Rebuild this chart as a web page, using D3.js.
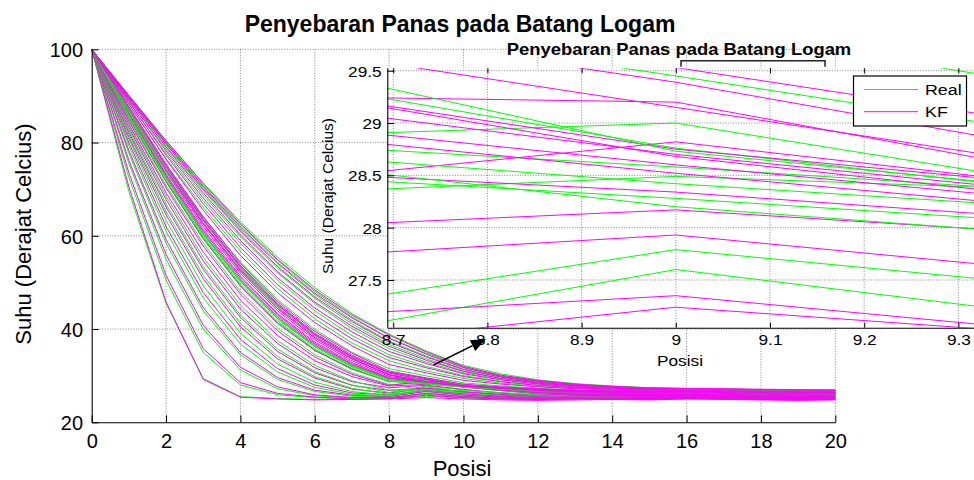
<!DOCTYPE html>
<html><head><meta charset="utf-8">
<script src="https://cdn.jsdelivr.net/npm/d3@7/dist/d3.min.js"></script>
<style>
body{margin:0;background:#fff}
svg{display:block}
text{font-family:"Liberation Sans",Arial,sans-serif;fill:#000}
</style>
</head><body>
<svg id="chart" width="974" height="480"></svg>
<script>
// ---------------- DATA ----------------
const positions = [0,1,2,3,4,5,6,7,8,9,10,11,12,13,14,15,16,17,18,19,20];
const mainXTicks = [0,2,4,6,8,10,12,14,16,18,20];
const mainYTicks = [20,40,60,80,100];
const insetXTicks = [8.7,8.8,8.9,9.0,9.1,9.2,9.3];
const insetYTicks = [27.5,28,28.5,29,29.5];
const seriesNames = ["Real","KF"];
const titleText = "Penyebaran Panas pada Batang Logam";
const xLabelText = "Posisi";
const yLabelText = "Suhu (Derajat Celcius)";

// Real (measured) temperature profiles, one per time step
const realCurves = [
 [100,69.5,45.5,29.4,25.5,25.1,24.9,25.0,25.1,25.6,25.2,25.0,24.9,25.0,25.1,25.0,25.2,25.1,25.0,24.9,25.0],
 [100,72.5,50.5,35.0,28.0,25.9,25.3,25.1,25.2,26.0,25.4,25.1,25.0,25.1,25.2,25.1,25.3,25.2,25.1,25.0,25.1],
 [100,75.5,55.0,40.0,31.2,27.2,25.7,25.2,25.3,26.3,25.6,25.3,25.1,25.2,25.3,25.2,25.4,25.3,25.2,25.1,25.2],
 [100,77.7,58.4,43.9,34.5,29.2,26.6,25.6,25.5,26.7,25.9,25.5,25.2,25.3,25.3,25.3,25.5,25.4,25.3,25.2,25.3],
 [100,79.3,61.0,46.7,36.8,30.8,27.5,26.0,25.7,26.9,26.2,25.7,25.4,25.4,25.4,25.4,25.6,25.5,25.4,25.3,25.4],
 [100,80.7,63.3,49.3,39.1,32.5,28.6,26.6,25.8,27.0,26.3,25.8,25.5,25.5,25.5,25.5,25.7,25.6,25.5,25.4,25.5],
 [100,81.8,65.2,51.5,41.2,34.1,29.8,27.3,26.0,27.6,26.5,26.0,25.6,25.5,25.5,25.5,25.7,25.6,25.5,25.4,25.5],
 [100,82.7,66.8,53.4,43.0,35.7,30.9,28.0,26.4,27.79,26.93,26.2,25.7,25.6,25.6,25.6,25.8,25.7,25.6,25.5,25.6],
 [100,83.6,68.5,55.4,45.1,37.5,32.2,28.9,26.9,26.95,26.8,26.4,25.9,25.7,25.7,25.7,25.9,25.8,25.7,25.6,25.7],
 [100,84.9,70.8,58.4,48.1,40.2,34.5,30.6,28.1,28.49,28.17,27.0,26.3,26.0,25.9,25.9,26.0,25.9,25.8,25.7,25.8],
 [100,85.4,71.7,59.6,49.4,41.4,35.5,31.4,28.7,29.0,27.56,26.8,26.3,26.1,26.0,26.0,26.1,26.0,25.9,25.8,25.9],
 [100,85.5,71.9,59.9,49.7,41.7,35.7,31.6,28.8,28.28,27.7,27.0,26.5,26.2,26.1,26.0,26.2,26.1,26.0,25.9,26.0],
 [100,85.7,72.3,60.3,50.2,42.2,36.2,31.9,29.1,28.58,28.0,27.2,26.6,26.3,26.2,26.1,26.3,26.2,26.1,26.0,26.0],
 [100,85.8,72.4,60.4,50.3,42.3,36.3,32.0,29.1,28.42,27.85,27.2,26.7,26.4,26.2,26.2,26.3,26.2,26.1,26.1,26.1],
 [100,85.9,72.5,60.6,50.5,42.5,36.4,32.2,29.2,28.2,27.53,27.1,26.7,26.5,26.3,26.2,26.4,26.3,26.2,26.1,26.1],
 [100,86.6,73.8,62.6,52.4,44.3,38.1,33.5,30.3,28.76,27.75,27.3,26.9,26.6,26.4,26.3,26.5,26.4,26.3,26.2,26.2],
 [100,86.8,74.3,63.2,53.1,45.0,38.7,34.0,30.7,28.73,27.84,27.4,27.0,26.7,26.5,26.4,26.5,26.4,26.3,26.2,26.3],
 [100,86.9,74.4,63.4,53.3,45.2,38.9,34.1,30.8,29.45,28.08,27.5,27.1,26.8,26.6,26.5,26.6,26.5,26.4,26.3,26.3],
 [100,87.3,75.1,64.0,54.4,46.3,39.9,35.0,31.5,29.95,28.45,27.8,27.3,27.0,26.8,26.6,26.7,26.6,26.5,26.4,26.4],
 [100,88.1,76.6,66.1,56.7,48.7,42.2,37.0,33.2,31.0,29.4,28.4,27.7,27.3,27.0,26.8,26.8,26.7,26.6,26.5,26.5],
 [100,88.6,77.7,67.5,58.4,50.5,43.9,38.6,34.5,32.0,30.0,28.8,28.0,27.5,27.2,27.0,26.9,26.8,26.7,26.6,26.6],
 [100,89.1,78.6,68.7,59.8,52.0,45.5,40.1,35.8,32.9,30.6,29.2,28.3,27.7,27.3,27.1,27.0,26.9,26.8,26.7,26.7],
 [100,89.5,79.2,69.7,60.9,53.1,46.6,41.1,36.7,33.6,31.0,29.5,28.5,27.9,27.5,27.2,27.1,27.0,26.9,26.8,26.8],
 [100,89.7,79.7,70.3,61.6,54.0,47.4,41.9,37.4,34.2,31.4,29.8,28.7,28.0,27.6,27.3,27.1,27.0,26.9,26.8,26.8],
 [100,89.9,80.1,70.8,62.3,54.7,48.1,42.6,38.1,34.8,31.8,30.1,28.9,28.1,27.7,27.4,27.2,27.1,27.0,26.9,26.8],
 [100,90.1,80.4,71.3,63.0,55.4,48.9,43.3,38.9,35.3,32.2,30.4,29.1,28.3,27.8,27.4,27.2,27.1,27.0,26.9,26.9]
];

// Kalman filter (KF) estimated profiles
const kfCurves = [
 [100,70.5,45.8,29.2,25.4,25.0,24.8,24.9,25.0,25.3,25.0,24.8,24.7,24.8,24.9,24.8,25.0,24.9,24.8,24.7,24.8],
 [100,73.5,51.5,35.8,28.5,26.2,25.4,25.0,25.1,25.8,25.3,25.0,24.9,25.0,25.0,24.9,25.1,25.0,24.9,24.8,24.9],
 [100,76.2,56.0,40.8,31.8,27.6,25.9,25.3,25.3,26.2,25.5,25.2,25.0,25.1,25.1,25.0,25.2,25.1,25.0,24.9,25.0],
 [100,78.3,59.2,44.6,35.0,29.6,26.9,25.8,25.6,26.6,25.8,25.4,25.1,25.2,25.2,25.1,25.3,25.2,25.1,25.0,25.1],
 [100,80.0,62.0,47.8,37.8,31.5,28.0,26.3,25.9,26.9,26.1,25.6,25.3,25.3,25.3,25.2,25.4,25.3,25.2,25.1,25.2],
 [100,81.2,64.5,50.8,40.5,33.6,29.5,27.1,26.29,27.24,26.6,25.9,25.5,25.4,25.4,25.3,25.5,25.4,25.3,25.2,25.3],
 [100,82.2,66.2,52.8,42.5,35.2,30.6,27.9,26.85,27.35,26.5,26.0,25.6,25.5,25.5,25.4,25.6,25.5,25.4,25.3,25.4],
 [100,83.2,67.8,54.6,44.3,36.9,31.7,28.7,27.4,27.93,27.07,26.3,25.8,25.6,25.6,25.5,25.7,25.6,25.5,25.4,25.5],
 [100,84.0,69.2,56.5,46.2,38.6,33.2,29.8,27.77,28.17,27.6,26.8,26.1,25.8,25.7,25.6,25.8,25.7,25.6,25.5,25.6],
 [100,84.6,70.3,57.8,47.5,39.6,34.0,30.3,27.92,28.82,27.8,26.9,26.2,25.9,25.8,25.7,25.9,25.8,25.7,25.6,25.7],
 [100,85.3,71.6,59.3,49.2,41.2,35.4,31.4,28.8,28.34,27.7,27.0,26.4,26.0,25.9,25.8,26.0,25.9,25.8,25.7,25.8],
 [100,85.8,72.6,60.6,50.6,42.6,36.6,32.3,29.33,29.2,27.54,26.9,26.4,26.1,26.0,25.9,26.1,26.0,25.9,25.8,25.9],
 [100,86.0,72.9,61.0,51.0,43.0,36.9,32.5,29.42,28.52,27.7,27.1,26.6,26.3,26.1,26.0,26.2,26.1,26.0,25.9,26.0],
 [100,86.2,73.2,61.4,51.4,43.3,37.2,32.8,29.53,28.6,27.75,27.2,26.7,26.4,26.2,26.1,26.3,26.2,26.1,26.0,26.1],
 [100,86.5,73.7,62.0,52.0,43.9,37.7,33.2,29.83,28.7,27.8,27.3,26.8,26.5,26.3,26.2,26.4,26.3,26.2,26.1,26.1],
 [100,86.8,74.1,62.5,52.5,44.4,38.1,33.6,30.1,28.75,27.9,27.4,26.9,26.6,26.4,26.3,26.4,26.3,26.2,26.1,26.2],
 [100,87.0,74.3,62.8,52.8,44.7,38.4,33.8,30.2,28.68,27.7,27.3,26.9,26.6,26.4,26.3,26.5,26.4,26.3,26.2,26.2],
 [100,87.3,74.8,63.4,53.4,45.2,38.8,34.1,30.52,29.15,27.78,27.4,27.0,26.7,26.5,26.4,26.5,26.4,26.3,26.2,26.3],
 [100,87.5,75.0,63.7,53.7,45.5,39.1,34.4,30.72,29.39,27.8,27.5,27.1,26.8,26.6,26.5,26.6,26.5,26.4,26.3,26.3],
 [100,87.7,75.4,64.1,54.1,45.9,39.5,34.8,31.0,29.53,28.16,27.6,27.2,26.9,26.7,26.6,26.7,26.6,26.5,26.4,26.4],
 [100,88.3,76.4,65.5,55.8,47.8,41.4,36.4,32.4,30.6,29.0,28.2,27.6,27.2,26.9,26.7,26.8,26.7,26.6,26.5,26.5],
 [100,88.8,77.3,66.9,57.5,49.5,43.0,37.9,33.9,31.7,29.8,28.7,27.9,27.4,27.1,26.9,26.9,26.8,26.7,26.6,26.6],
 [100,89.2,78.2,68.1,59.0,51.0,44.5,39.4,35.2,32.6,30.4,29.1,28.2,27.6,27.3,27.0,27.0,26.9,26.8,26.7,26.7],
 [100,89.5,79.0,69.2,60.2,52.3,45.8,40.6,36.3,33.3,30.9,29.4,28.4,27.8,27.4,27.1,27.1,27.0,26.9,26.8,26.8],
 [100,89.7,79.6,70.0,61.2,53.4,46.9,41.6,37.2,34.0,31.3,29.7,28.6,27.9,27.5,27.2,27.2,27.1,27.0,26.9,26.9],
 [100,89.9,80.0,70.6,61.9,54.2,47.7,42.4,38.0,34.6,31.7,29.9,28.8,28.1,27.6,27.3,27.2,27.1,27.0,26.9,26.9],
 [100,90.1,80.4,71.2,62.6,54.9,48.4,43.0,38.7,35.1,32.0,30.1,29.0,28.2,27.7,27.4,27.3,27.2,27.1,27.0,26.9]
];

// ---------------- DRAW ----------------
const W = 974, H = 480;
const FONT = '"Liberation Sans",Arial,sans-serif';
const GREEN = "#00ff00", MAGENTA = "#ff00ff";
const STRETCH = 1.15;

const svg = d3.select("#chart");
svg.append("rect").attr("width", W).attr("height", H).attr("fill", "#fff");

const x = d3.scaleLinear().domain([0, 20]).range([91.7, 835.3]);
const y = d3.scaleLinear().domain([20, 100]).range([422.3, 49.3]);

function gridStyle(sel) {
  return sel.attr("stroke", "#6a6a6a").attr("stroke-width", 0.8).attr("stroke-dasharray", "1,1.6").attr("fill", "none");
}

// main grid
const mg = svg.append("g");
gridStyle(mg.selectAll("line.vx").data(mainXTicks.filter(d => d > 0)).join("line")
  .attr("x1", d => x(d)).attr("x2", d => x(d)).attr("y1", y(20)).attr("y2", y(100)));
gridStyle(mg.selectAll("line.hy").data(mainYTicks.filter(d => d > 20)).join("line")
  .attr("x1", x(0)).attr("x2", x(20)).attr("y1", d => y(d)).attr("y2", d => y(d)));

// main lines (interleaved Real / KF per time step)
const lineMain = d3.line().x((d, i) => x(positions[i])).y(d => y(d));
const ml = svg.append("g").attr("fill", "none").attr("stroke-width", 1);
const nSteps = Math.max(realCurves.length, kfCurves.length);
for (let k = 0; k < nSteps; k++) {
  if (realCurves[k]) ml.append("path").attr("d", lineMain(realCurves[k])).attr("stroke", GREEN);
  if (kfCurves[k]) ml.append("path").attr("d", lineMain(kfCurves[k])).attr("stroke", MAGENTA);
}

// main axes
const ax = svg.append("g").attr("transform", `translate(0,${y(20)})`)
  .call(d3.axisBottom(x).tickValues(mainXTicks).tickSize(-7).tickSizeOuter(0).tickPadding(11.5).tickFormat(d3.format("d")));
const ay = svg.append("g").attr("transform", `translate(${x(0)},0)`)
  .call(d3.axisLeft(y).tickValues(mainYTicks).tickSize(-7).tickSizeOuter(0).tickPadding(8.7).tickFormat(d3.format("d")));
[ax, ay].forEach(g => {
  g.attr("font-size", 20).attr("font-family", FONT);
  g.selectAll("path.domain").attr("stroke", "#000").attr("stroke-width", 1.1);
  g.selectAll(".tick line").attr("stroke", "#000").attr("stroke-width", 1);
  g.selectAll(".tick text").attr("fill", "#000");
});
ay.selectAll(".tick text").attr("dy", "0.37em");

// main titles / labels
svg.append("text").attr("x", 460).attr("y", 31.5).attr("text-anchor", "middle")
  .attr("font-size", 23).attr("font-weight", "bold").attr("fill", "#0b0b1e").text(titleText);
svg.append("text").attr("x", 462).attr("y", 476).attr("text-anchor", "middle").attr("font-size", 22).text(xLabelText);
svg.append("text").attr("transform", "translate(31,234) rotate(-90)").attr("text-anchor", "middle")
  .attr("font-size", 22).text(yLabelText);

// arrow annotation
const a0 = [433.5, 365], a1 = [486, 339];
const dx = a1[0] - a0[0], dy = a1[1] - a0[1], L = Math.hypot(dx, dy);
const ux = dx / L, uy = dy / L, hl = 15, hw = 6;
const bx = a1[0] - hl * ux, by = a1[1] - hl * uy;
svg.append("line").attr("x1", a0[0]).attr("y1", a0[1]).attr("x2", bx).attr("y2", by)
  .attr("stroke", "#000").attr("stroke-width", 1.6);
svg.append("path").attr("d", `M${a1[0]},${a1[1]}L${bx - hw * uy},${by + hw * ux}L${bx + hw * uy},${by - hw * ux}Z`)
  .attr("fill", "#000");

// ---------------- INSET ----------------
const ix0 = 387.3, ix1 = 974, iy0 = 68.3, iy1 = 327.7;
const xi = d3.scaleLinear().domain([8.6937, 9.3166]).range([ix0, ix1]);
const yi = d3.scaleLinear().domain([27.044, 29.523]).range([iy1, iy0]);

svg.append("rect").attr("x", ix0).attr("y", iy0).attr("width", ix1 - ix0 + 5).attr("height", iy1 - iy0).attr("fill", "#fff");

svg.append("clipPath").attr("id", "insetClip").append("rect")
  .attr("x", ix0).attr("y", iy0).attr("width", ix1 - ix0 + 5).attr("height", iy1 - iy0);

const ig = svg.append("g");
gridStyle(ig.selectAll("line.vx").data(insetXTicks).join("line")
  .attr("x1", d => xi(d)).attr("x2", d => xi(d)).attr("y1", iy0).attr("y2", iy1));
gridStyle(ig.selectAll("line.hy").data(insetYTicks).join("line")
  .attr("x1", ix0).attr("x2", ix1 + 5).attr("y1", d => yi(d)).attr("y2", d => yi(d)));

const lineInset = d3.line().x((d, i) => xi(positions[i])).y(d => yi(d));
const il = svg.append("g").attr("clip-path", "url(#insetClip)").attr("fill", "none").attr("stroke-width", 1);
for (let k = 0; k < nSteps; k++) {
  if (realCurves[k]) il.append("path").attr("d", lineInset(realCurves[k])).attr("stroke", GREEN);
  if (kfCurves[k]) il.append("path").attr("d", lineInset(kfCurves[k])).attr("stroke", MAGENTA);
}

// inset axes
const iax = svg.append("g").attr("transform", `translate(0,${iy1})`)
  .call(d3.axisBottom(xi).tickValues(insetXTicks).tickSize(-5).tickSizeOuter(0).tickPadding(6.6).tickFormat(d => d3.format("")(+d.toFixed(1))));
const iay = svg.append("g").attr("transform", `translate(${ix0},0)`)
  .call(d3.axisLeft(yi).tickValues(insetYTicks).tickSize(-7).tickSizeOuter(0).tickPadding(4.9).tickFormat(d => d3.format("")(d)));
const iat = svg.append("g").attr("transform", `translate(0,${iy0})`)
  .call(d3.axisTop(xi).tickValues(insetXTicks).tickSize(-5).tickSizeOuter(0).tickFormat(""));
iat.select("path.domain").remove();
[iax, iay, iat].forEach(g => {
  g.attr("font-size", 15).attr("font-family", FONT);
  g.selectAll("path.domain").attr("stroke", "#000").attr("stroke-width", 1.1);
  g.selectAll(".tick line").attr("stroke", "#000").attr("stroke-width", 1);
  g.selectAll(".tick text").attr("fill", "#000").attr("transform", `scale(${STRETCH},1)`);
});
iay.selectAll(".tick text").attr("dy", "0.36em");
// left axis line should span full inset height
iay.select("path.domain").attr("d", `M0.5,${iy0}V${iy1}`);

// inset texts
svg.append("text").attr("transform", `translate(679,55) scale(${STRETCH},1)`).attr("text-anchor", "middle")
  .attr("font-size", 16).attr("font-weight", "bold").attr("fill", "#0b0b1e").text(titleText);
svg.append("text").attr("transform", `translate(680,366) scale(${STRETCH},1)`).attr("text-anchor", "middle")
  .attr("font-size", 15).text(xLabelText);
svg.append("text").attr("transform", "translate(333,196) rotate(-90)").attr("text-anchor", "middle")
  .attr("font-size", 15.5).text(yLabelText);

// bracket annotation
svg.append("path").attr("d", "M681,66.7V60.7H825V66.7").attr("fill", "none").attr("stroke", "#222").attr("stroke-width", 1.5);

// legend
const lg = svg.append("g");
lg.append("rect").attr("x", 853.5).attr("y", 76).attr("width", 113).attr("height", 50)
  .attr("fill", "#fff").attr("stroke", "#000").attr("stroke-width", 1.2);
const legendColors = [GREEN, MAGENTA];
const legendY = d3.scalePoint().domain(seriesNames).range([89.5, 111.7]);
seriesNames.forEach((name, i) => {
  lg.append("line").attr("x1", 864).attr("x2", 918).attr("y1", legendY(name)).attr("y2", legendY(name))
    .attr("stroke", legendColors[i]).attr("stroke-width", 1);
  lg.append("text").attr("transform", `translate(925,${legendY(name) + 5.6}) scale(${STRETCH},1)`)
    .attr("font-size", 15.5).text(name);
});
</script>
</body></html>
